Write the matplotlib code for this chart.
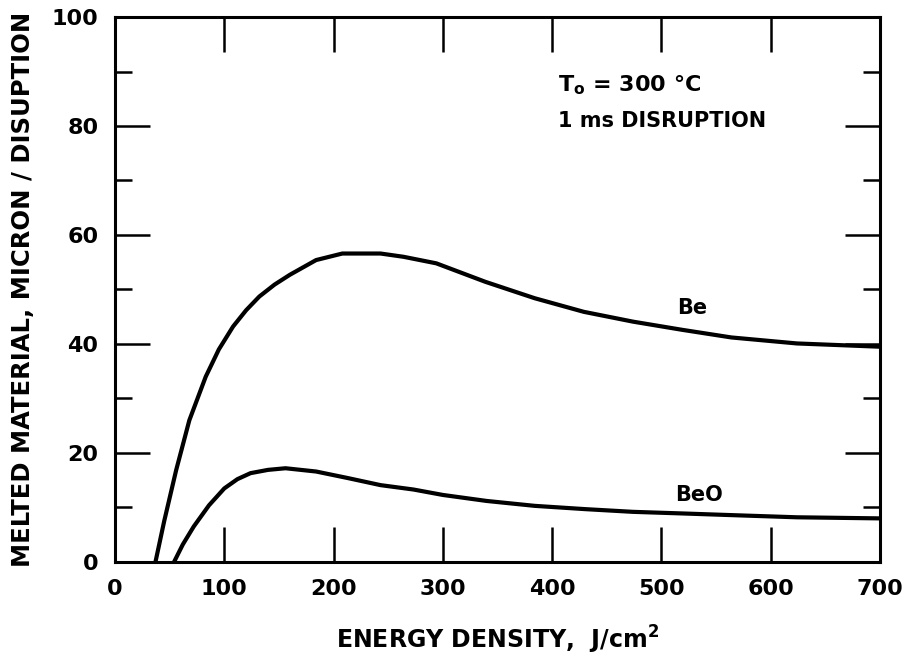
# -*- coding: utf-8 -*-
"""Melted material per disruption vs. energy density (Be and BeO)."""

import matplotlib
matplotlib.use("Agg")
import matplotlib.pyplot as plt
from matplotlib.ticker import MultipleLocator, FixedLocator


# values
be_energy = [37, 45, 56, 68, 83, 95, 108, 120, 132, 146, 160, 184, 208, 243, 264,
             294, 339, 384, 429, 474, 519, 564, 624, 700]
be_melt = [0, 7.5, 16.9, 26, 34, 39, 43.2, 46.2, 48.7, 50.9, 52.7, 55.4, 56.6, 56.6, 56.0,
           54.8, 51.4, 48.4, 45.9, 44.1, 42.6, 41.2, 40.1, 39.5]

beo_energy = [54, 62, 72, 86, 100, 112, 124, 140, 156, 184, 213, 243, 273, 300,
              340, 384, 430, 474, 520, 564, 624, 700]
beo_melt = [0, 3.2, 6.5, 10.4, 13.5, 15.2, 16.3, 16.9, 17.2, 16.6, 15.4, 14.1, 13.3, 12.3,
            11.2, 10.3, 9.7, 9.2, 8.9, 8.6, 8.2, 8.0]

x_ticks = [0, 100, 200, 300, 400, 500, 600, 700]
y_ticks = [0, 20, 40, 60, 80, 100]

FONT = {"family": "DejaVu Sans", "weight": "bold"}

fig = plt.figure(figsize=(9.1, 6.54), dpi=100)
ax = fig.add_axes([0.1264, 0.1407, 0.8406, 0.8333])

ax.plot(be_energy, be_melt, color="black", linewidth=3.0, solid_capstyle="round")
ax.plot(beo_energy, beo_melt, color="black", linewidth=3.0, solid_capstyle="round")

ax.set_xlim(0, 700)
ax.set_ylim(0, 100)

for spine in ax.spines.values():
    spine.set_linewidth(2.2)

ax.set_xticks(x_ticks)
ax.set_yticks(y_ticks)
ax.yaxis.set_minor_locator(MultipleLocator(10))
ax.xaxis.set_minor_locator(FixedLocator([]))

ax.tick_params(axis="both", which="major", direction="in", length=25, width=1.8,
               top=True, right=True, labelsize=16, pad=12)
ax.tick_params(axis="y", which="minor", direction="in", length=12, width=1.8,
               left=True, right=True)
for lab in ax.get_xticklabels() + ax.get_yticklabels():
    lab.set_fontweight("bold")
    lab.set_family("DejaVu Sans")

ax.set_xlabel("ENERGY DENSITY,  J/cm$^\\mathbf{2}$", fontsize=17, labelpad=18, **FONT)
ax.set_ylabel("MELTED MATERIAL, MICRON / DISUPTION", fontsize=17.5, labelpad=12, **FONT)

ax.text(405, 87.5, "T$_\\mathbf{o}$ = 300 °C", fontsize=16, va="center", ha="left", **FONT)
ax.text(405, 81, "1 ms DISRUPTION", fontsize=15, va="center", ha="left", **FONT)

ax.text(528, 46.6, "Be", fontsize=15, ha="center", va="center", **FONT)
ax.text(534, 12.3, "BeO", fontsize=15, ha="center", va="center", **FONT)

fig.savefig("out.png", dpi=100)
